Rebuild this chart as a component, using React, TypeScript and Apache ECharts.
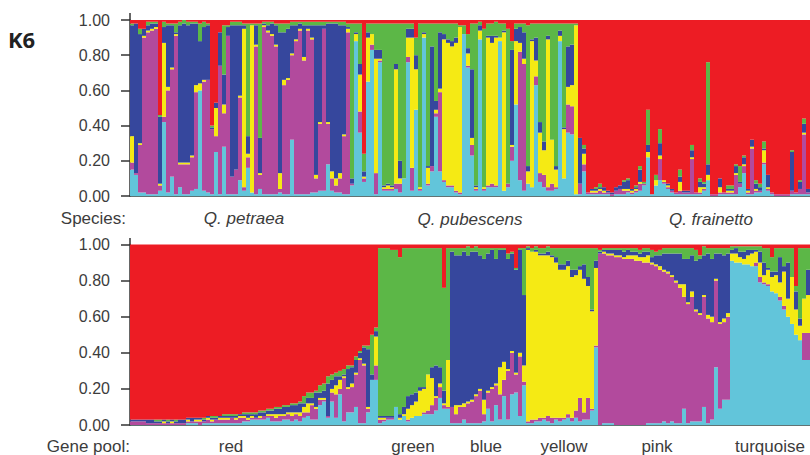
import React, { useEffect, useRef } from "react";
import * as echarts from "echarts";

const seriesNames = ["turquoise", "pink", "yellow", "blue", "green", "red"];
const seriesColors = ["#62c5da", "#b24a9d", "#f5ea14", "#36479d", "#5cb747", "#ed1c24"];
const yTicks = ["0.00", "0.20", "0.40", "0.60", "0.80", "1.00"];

// Each row is one individual: turquoise, pink, yellow, blue, green, red
const petraea = [
  [15,4,15,63,1,2],[12,1,0,85,0,2],[2,27,1,62,3,5],[2,88,1,4,0,5],[1,92,1,3,2,1],[1,93,1,3,1,1],[1,94,1,2,1,1],
  [3,3,1,38,1,54],[42,3,42,9,3,1],[2,58,2,35,1,2],[11,61,1,24,1,2],[1,90,1,1,5,2],[5,13,1,78,2,1],[1,17,1,79,2,0],
  [1,17,1,78,2,1],[3,19,1,75,1,1],[4,55,4,35,1,1],[60,0,4,24,10,2],[3,62,1,30,3,1],[2,64,0,31,1,2],[1,37,0,1,1,60],
  [25,9,16,3,0,47],[1,73,0,19,0,7],[28,19,5,17,28,3],[1,90,0,5,1,3],[1,10,0,86,2,1],[1,14,0,82,2,1],[9,47,1,40,2,1],
  [3,2,90,2,1,2],[16,6,2,10,64,2],[2,0,95,0,1,2],[1,84,1,11,1,2],[4,8,1,20,65,2],[1,95,1,1,1,1],[1,92,1,3,2,1],
  [1,90,1,6,1,1],[1,84,1,11,1,2],[2,2,9,80,5,2],[1,62,3,27,5,2],[1,65,1,28,3,2],[32,48,1,16,2,1],[1,87,1,8,2,1],
  [1,93,1,3,1,1],[1,76,2,18,2,1],[1,93,1,2,2,1],[2,87,1,7,2,1],[2,8,2,85,2,1],[3,38,1,55,2,1],[3,92,0,2,2,1],
  [18,23,1,56,1,1],[3,7,4,84,1,1],[2,4,4,88,1,1],[2,8,3,84,2,1],[1,33,1,62,2,1],[1,92,2,1,2,2],[6,1,0,3,88,2],
];
const pubescens = [
  [88,0,4,1,5,2],[36,12,21,6,23,2],[8,2,1,3,10,76],[65,0,25,3,5,2],[83,3,6,0,6,2],[1,12,65,5,15,2],[76,1,1,5,15,2],
  [3,1,1,1,92,2],[3,1,2,1,91,2],[3,1,1,1,92,2],[4,3,65,3,23,2],[2,5,3,10,78,2],[10,0,0,0,88,2],[76,3,11,5,3,2],
  [3,13,74,5,3,2],[49,0,23,8,10,10],[3,1,1,0,93,2],[90,0,2,1,5,2],[6,1,9,1,81,2],[14,3,0,68,13,2],[45,2,2,5,44,2],
  [14,45,2,32,5,2],[8,1,80,3,6,2],[5,1,81,2,9,2],[5,1,79,3,10,2],[2,1,84,3,8,2],[1,1,94,0,1,3],[92,0,0,0,5,3],
  [73,1,7,3,8,8],[23,6,4,39,26,2],[3,1,1,1,92,2],[89,0,5,3,2,1],[3,1,1,0,90,5],[5,1,84,1,7,2],[5,2,80,4,7,2],
  [5,1,84,1,8,1],[88,0,2,0,8,2],[3,0,90,1,4,2],[5,2,0,0,88,5],[20,8,1,54,5,12],[52,0,36,7,3,2],[9,73,5,9,2,2],
  [3,72,3,15,5,2],[7,0,7,3,80,3],[5,0,83,1,9,2],[63,5,9,13,8,2],[8,5,23,6,56,2],[5,7,14,5,67,2],[3,2,84,2,7,2],
  [3,4,25,0,66,2],[4,1,10,2,81,2],[88,0,3,3,4,2],[10,0,28,1,59,2],[36,16,10,23,13,2],[35,16,12,23,12,2],[1,0,96,0,1,2],
];
const frainetto = [
  [1,6,0,26,0,67],[14,4,6,3,2,71],[1,1,0,0,0,98],[1,1,1,1,0,96],[1,1,1,1,1,95],[1,2,1,1,2,93],[1,1,1,2,0,95],
  [1,1,0,1,0,97],[0,1,0,1,0,98],[1,2,0,2,0,95],[1,3,0,2,0,94],[1,2,1,4,1,91],[2,1,1,5,1,90],[1,1,1,1,0,96],
  [2,1,1,1,1,94],[3,4,1,7,2,83],[6,1,0,0,1,92],[22,0,3,4,20,51],[1,0,0,0,0,99],[6,0,3,0,3,88],[9,12,2,7,8,62],
  [7,1,1,0,0,91],[4,1,1,1,0,93],[2,1,0,1,0,96],[1,1,0,0,0,98],[1,2,5,3,4,85],[1,1,0,1,0,97],[1,1,0,1,0,97],
  [1,20,1,4,3,71],[1,1,0,0,0,98],[1,1,3,3,2,90],[3,1,1,2,1,92],[9,0,3,6,58,24],[0,1,0,0,0,99],[0,1,0,0,0,99],
  [1,1,3,5,0,90],[1,1,0,0,0,98],[1,1,1,1,2,94],[1,1,1,1,2,94],[1,11,1,4,1,82],[5,2,0,1,9,83],[13,4,1,4,1,77],
  [1,1,1,1,0,96],[1,26,1,4,0,68],[2,1,1,3,2,91],[2,1,0,2,2,93],[18,1,7,1,4,69],[3,1,1,7,0,88],[1,1,0,0,0,98],
  [0,1,0,0,0,99],[0,1,0,0,0,99],[0,1,0,0,0,99],[0,1,0,0,0,99],[1,2,0,22,1,74],[1,1,0,0,0,98],[1,3,0,4,1,91],
  [1,34,1,5,3,56],[1,1,0,2,0,96],
];
const poolRed = [
  [0,2,0,1,0,97],[0,2,0,1,0,97],[0,2,0,1,0,97],[0,2,0,1,0,97],[0,1,0,2,0,97],[0,1,0,2,0,97],[0,1,0,1,1,97],[0,1,0,1,1,97],
  [0,1,1,1,0,97],[0,1,0,1,1,97],[0,1,1,1,0,97],[0,1,0,1,1,97],[0,1,0,2,0,97],[0,1,0,2,0,97],[1,1,1,1,0,96],[1,1,0,2,0,96],
  [1,1,1,1,0,96],[0,2,1,1,0,96],[1,1,0,1,1,96],[1,2,1,1,0,95],[1,1,1,1,1,95],[1,2,0,1,1,95],[1,2,1,1,0,95],[1,2,1,1,1,94],
  [1,2,1,1,1,94],[1,3,0,1,1,94],[1,2,1,1,1,94],[1,3,1,1,0,94],[2,2,1,1,1,93],[2,1,1,2,1,93],[3,1,1,1,1,93],[3,1,0,2,1,93],
  [3,1,1,2,1,92],[3,2,0,2,1,92],[4,1,1,2,1,91],[2,3,1,2,1,91],[2,2,2,3,1,90],[2,3,1,3,1,90],[3,2,1,4,1,89],[3,3,1,3,1,89],
  [2,3,2,4,1,88],[3,3,1,4,1,88],[2,3,2,5,1,87],[4,3,3,2,4,84],[5,2,5,3,3,82],[3,8,1,3,3,82],[3,6,1,8,1,81],[11,3,1,3,4,78],
  [13,1,1,4,4,77],[4,1,0,18,4,73],[13,5,2,5,3,72],[4,13,5,5,2,71],[17,3,5,2,3,70],[2,24,1,1,3,69],[7,13,1,10,2,67],[7,14,2,9,1,67],
  [10,18,1,7,2,62],[1,35,1,3,1,59],[1,32,1,9,1,56],[7,2,1,32,2,56],[25,0,0,3,22,50],[25,8,16,3,2,46],
];
const poolGreen = [
  [1,2,1,1,93,2],[2,1,1,1,93,2],[3,1,0,1,93,2],[3,1,0,1,92,3],[10,0,0,0,87,3],[3,0,1,2,87,7],[5,0,1,4,88,2],[2,1,6,7,82,2],[4,0,7,6,81,2],
  [5,0,8,5,80,2],[5,0,14,2,77,2],[6,1,13,1,77,2],[6,2,20,0,70,2],[6,5,15,6,66,2],[8,7,1,17,65,2],[15,6,2,9,66,2],[9,2,1,7,57,24],[9,1,26,0,62,2],
];
const poolBlue = [
  [1,9,0,86,2,2],[1,5,5,83,4,2],[1,9,1,83,4,2],[3,7,2,84,2,2],[1,11,1,81,5,1],[1,12,1,82,2,2],[1,15,1,79,3,1],[1,18,1,74,4,2],[2,4,8,78,6,2],[9,9,1,76,3,2],
  [2,18,1,76,1,2],[11,11,1,69,6,2],[3,14,15,65,1,2],[16,9,10,62,1,2],[3,27,1,61,3,5],[17,23,1,54,1,4],[18,10,1,57,1,13],[5,33,2,57,1,2],[22,2,9,39,26,2],
];
const poolYellow = [
  [1,1,95,1,1,1],[1,2,93,0,2,2],[2,1,93,1,2,1],[2,2,90,1,3,2],[3,1,90,1,3,2],[2,3,89,2,3,1],[1,3,89,1,4,2],[3,1,86,3,5,2],[2,2,82,3,9,2],
  [3,1,82,3,9,2],[4,2,82,3,7,2],[2,2,78,4,12,2],[4,4,75,3,12,2],[2,13,71,2,10,2],[3,4,74,8,9,2],[3,12,62,5,16,2],[8,1,54,1,34,2],[43,1,43,4,7,2],
];
const poolPink = [
  [0,95,0,1,1,3],[1,94,1,1,1,2],[1,93,1,2,1,2],[1,93,1,2,1,2],[0,93,1,3,1,2],[0,93,1,3,1,2],[0,92,1,3,2,2],[0,92,2,3,1,2],[0,92,2,2,2,2],[0,91,3,2,2,2],[0,91,2,2,2,3],
  [0,90,3,3,2,2],[1,89,4,2,2,2],[1,88,1,3,4,3],[1,87,1,5,2,4],[1,85,2,6,3,3],[2,83,1,9,3,2],[1,83,1,10,3,2],[2,80,1,12,3,2],[1,78,1,15,3,2],[1,75,2,17,3,2],[9,62,7,14,6,2],
  [1,66,1,24,6,2],[2,69,3,20,4,2],[2,61,1,27,6,3],[2,59,1,30,2,6],[10,61,1,22,5,1],[1,58,2,34,3,2],[3,54,3,32,6,2],[32,48,1,14,3,2],[9,47,1,38,3,2],[14,43,2,35,4,2],[14,46,2,33,3,2],
];
const poolTurquoise = [
  [91,0,4,2,2,1],[90,0,5,3,1,1],[90,0,3,3,3,1],[89,0,3,4,3,1],[89,0,5,3,2,1],[88,0,7,2,2,1],[88,2,6,1,2,1],[79,3,8,6,3,1],[78,1,4,7,8,2],[77,1,8,1,11,2],
  [74,0,8,3,8,7],[73,0,10,2,13,2],[69,2,8,14,5,2],[64,2,19,3,10,2],[60,0,10,20,8,2],[56,0,26,0,16,2],[50,0,14,10,3,23],[47,0,8,4,39,2],[36,15,19,0,28,2],[36,15,21,14,12,2],
];

const topRows = [...petraea, ...pubescens, ...frainetto];
const bottomRows = [...poolRed, ...poolGreen, ...poolBlue, ...poolYellow, ...poolPink, ...poolTurquoise];

const textColor = "#3c3c3c";
const sans = "'Liberation Sans', Arial, sans-serif";

function label(text: string, x: number, y: number, extra: Record<string, unknown> = {}, align = "center") {
  return {
    type: "text",
    x,
    y,
    silent: true,
    style: { text, fill: textColor, font: `17px ${sans}`, textAlign: align, textVerticalAlign: "middle", ...extra },
  };
}

function panelSeries(rows: number[][], axisIndex: number, stack: string) {
  return seriesNames.map((name, s) => ({
    name: `${stack}-${name}`,
    type: "bar",
    stack,
    xAxisIndex: axisIndex,
    yAxisIndex: axisIndex,
    barWidth: "100%",
    barCategoryGap: 0,
    itemStyle: { color: seriesColors[s], borderWidth: 0 },
    emphasis: { disabled: true },
    data: rows.map((r) => r[s] / r.reduce((a, b) => a + b, 0)),
  }));
}

function xAxis(rows: number[][], gridIndex: number) {
  return {
    type: "category",
    gridIndex,
    data: rows.map((_, i) => String(i + 1)),
    axisLine: { show: true, lineStyle: { color: "#2e4444", width: 1.5 } },
    axisTick: { show: false },
    axisLabel: { show: false },
  };
}

function yAxis(gridIndex: number) {
  return {
    type: "value",
    gridIndex,
    min: 0,
    max: 1,
    interval: 0.2,
    splitLine: { show: false },
    axisLine: { show: true, lineStyle: { color: "#333", width: 1.5 } },
    axisTick: { show: true, length: 9, lineStyle: { color: "#333", width: 1.5 } },
    axisLabel: {
      margin: 20,
      fontFamily: sans,
      fontSize: 16,
      color: textColor,
      formatter: (v: number) => yTicks[Math.round(v * 5)],
    },
  };
}

export default function App() {
  const ref = useRef<HTMLDivElement>(null);
  useEffect(() => {
    document.body.style.margin = "0";
    const chart = echarts.init(ref.current!, undefined, { renderer: "svg" });
    chart.setOption({
      animation: false,
      backgroundColor: "#ffffff",
      grid: [
        { left: 130, top: 20, width: 680, height: 176 },
        { left: 130, top: 244.5, width: 680, height: 180.5 },
      ],
      xAxis: [xAxis(topRows, 0), xAxis(bottomRows, 1)],
      yAxis: [yAxis(0), yAxis(1)],
      series: [...panelSeries(topRows, 0, "species"), ...panelSeries(bottomRows, 1, "pool")],
      graphic: [
        { type: "line", silent: true, shape: { x1: 130, y1: 13, x2: 130, y2: 20 }, style: { stroke: "#333", lineWidth: 1.5 } },
        { type: "line", silent: true, shape: { x1: 130, y1: 238, x2: 130, y2: 245 }, style: { stroke: "#333", lineWidth: 1.5 } },
        label("K6", 8, 39, { font: `bold 22px 'Open Sans', sans-serif`, fill: "#222" }, "left"),
        label("Species:", 126, 218, {}, "right"),
        label("Q. petraea", 244, 218, { font: `italic 17px ${sans}` }),
        label("Q. pubescens", 470, 219, { font: `italic 17px ${sans}` }),
        label("Q. frainetto", 711, 219, { font: `italic 17px ${sans}` }),
        label("Gene pool:", 130, 446, {}, "right"),
        label("red", 231, 446),
        label("green", 413, 446),
        label("blue", 486, 446),
        label("yellow", 564, 446),
        label("pink", 657, 446),
        label("turquoise", 770, 446),
      ],
    });
    return () => chart.dispose();
  }, []);
  return <div ref={ref} style={{ position: "absolute", left: 0, top: 0, width: 810, height: 455 }} />;
}
